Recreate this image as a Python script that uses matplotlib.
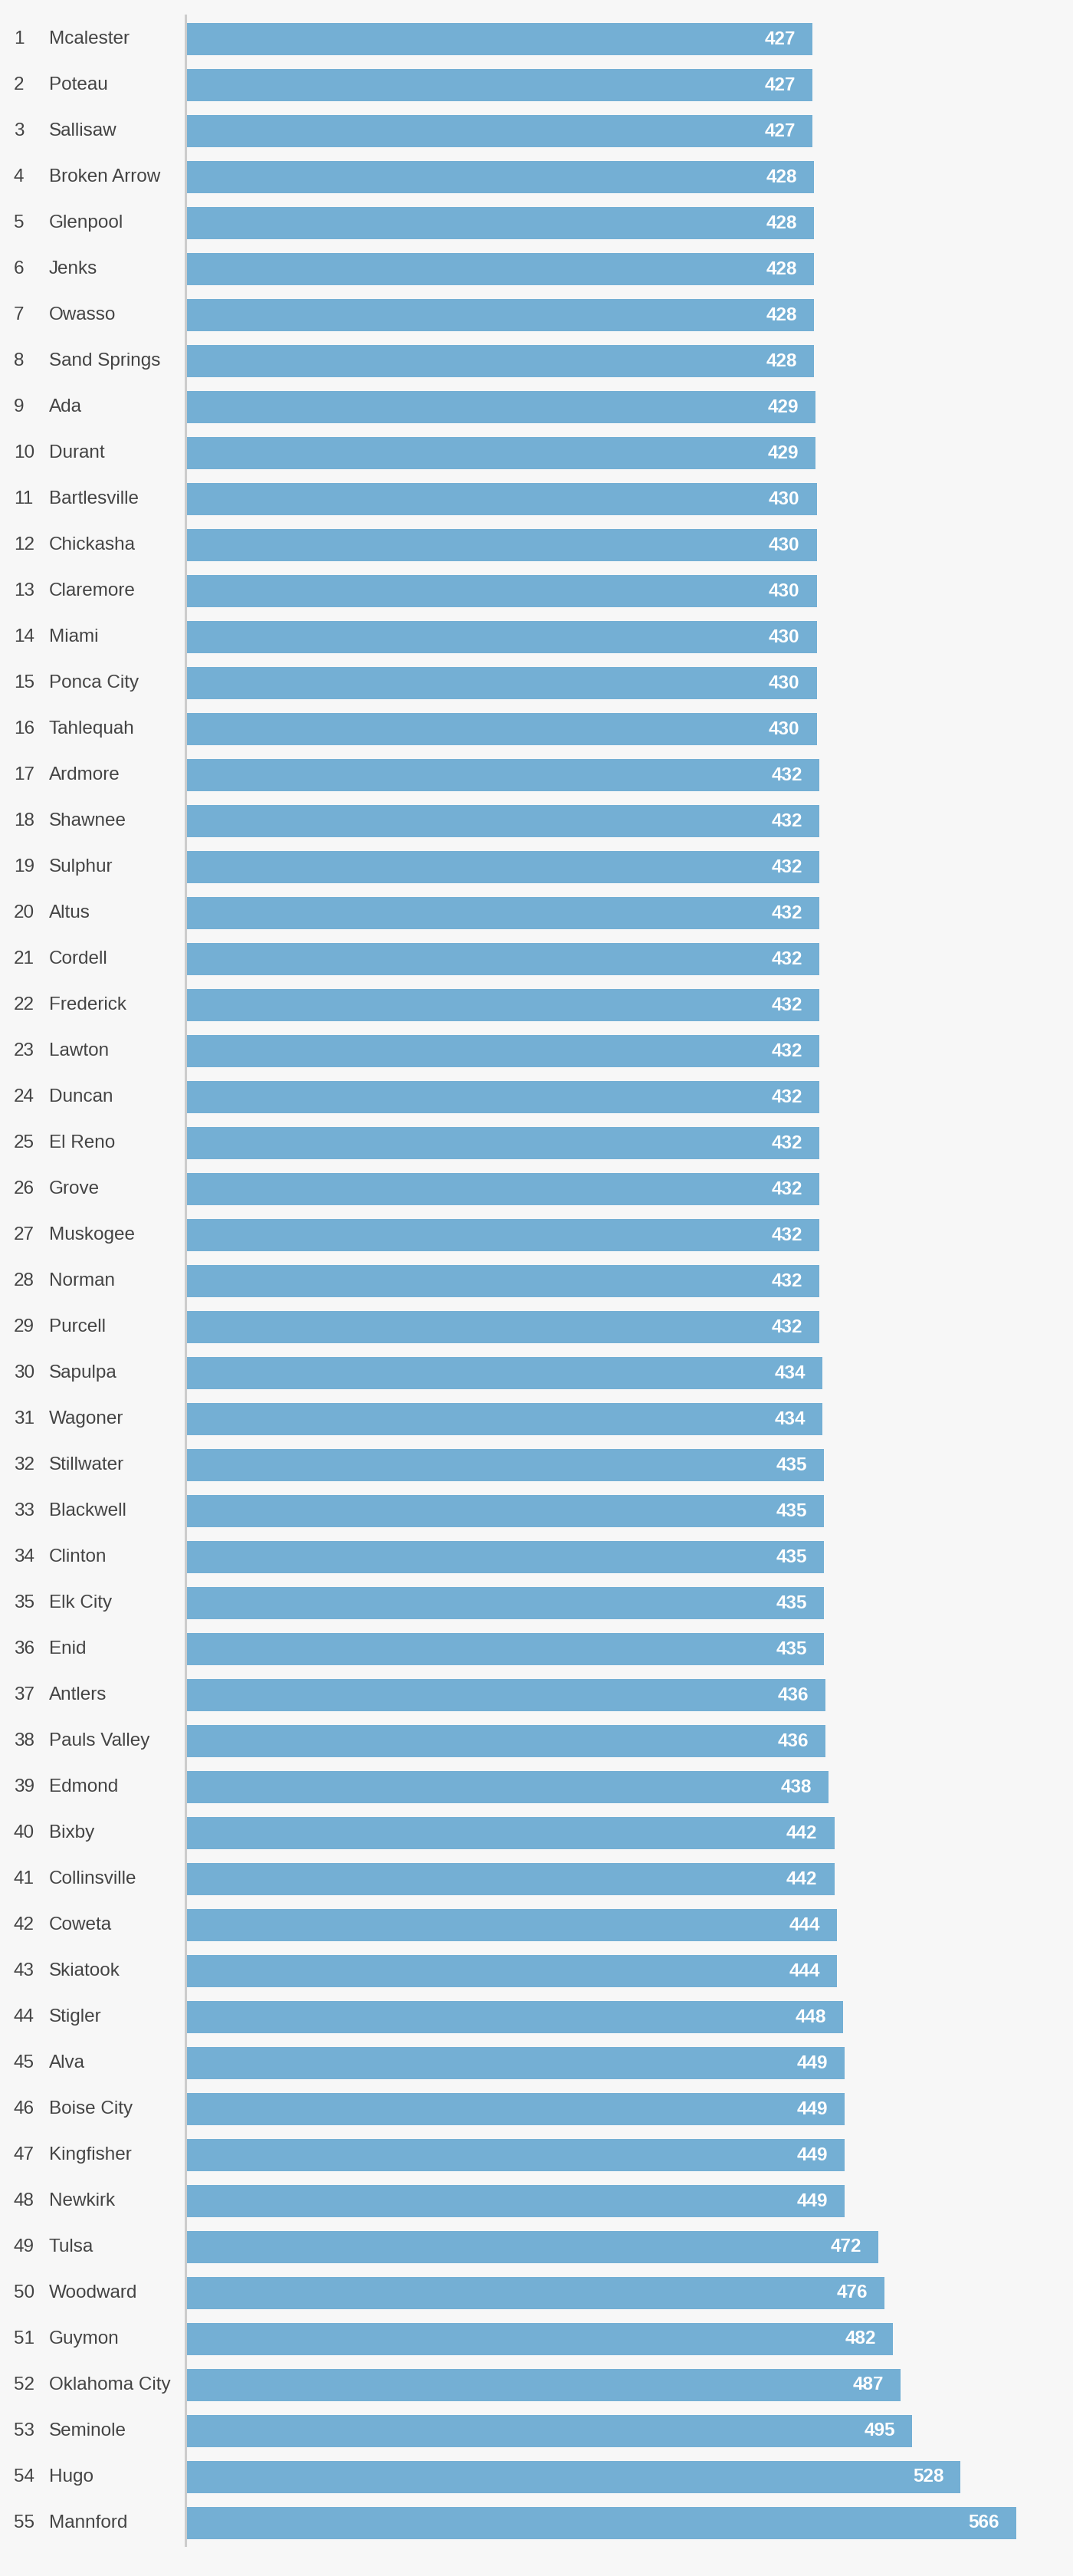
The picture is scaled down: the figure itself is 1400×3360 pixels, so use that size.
import matplotlib.pyplot as plt
import matplotlib.transforms as mtransforms

cities = [
    "Mcalester", "Poteau", "Sallisaw", "Broken Arrow", "Glenpool", "Jenks",
    "Owasso", "Sand Springs", "Ada", "Durant", "Bartlesville", "Chickasha",
    "Claremore", "Miami", "Ponca City", "Tahlequah", "Ardmore", "Shawnee",
    "Sulphur", "Altus", "Cordell", "Frederick", "Lawton", "Duncan",
    "El Reno", "Grove", "Muskogee", "Norman", "Purcell", "Sapulpa",
    "Wagoner", "Stillwater", "Blackwell", "Clinton", "Elk City", "Enid",
    "Antlers", "Pauls Valley", "Edmond", "Bixby", "Collinsville", "Coweta",
    "Skiatook", "Stigler", "Alva", "Boise City", "Kingfisher", "Newkirk",
    "Tulsa", "Woodward", "Guymon", "Oklahoma City", "Seminole", "Hugo",
    "Mannford",
]
values = [
    427, 427, 427, 428, 428, 428, 428, 428, 429, 429, 430, 430, 430, 430,
    430, 430, 432, 432, 432, 432, 432, 432, 432, 432, 432, 432, 432, 432,
    432, 434, 434, 435, 435, 435, 435, 435, 436, 436, 438, 442, 442, 444,
    444, 448, 449, 449, 449, 449, 472, 476, 482, 487, 495, 528, 566,
]

BG = "#f7f7f7"
BAR = "#74afd4"
TXT = "#444444"
W, H = 1400, 3360

plt.rcParams['font.family'] = ['Liberation Sans', 'DejaVu Sans']

fig = plt.figure(figsize=(W / 100, H / 100), dpi=100, facecolor=BG)
ax = fig.add_axes([242 / W, 40 / H, 1084 / W, 3300 / H])
ax.set_facecolor(BG)

n = len(cities)
ypos = list(range(n))
ax.barh(ypos, values, height=0.7, color=BAR, linewidth=0)
ax.set_xlim(0, max(values))
ax.set_ylim(n - 1 + 29 / 60, -31 / 60)

for s in ["top", "right", "bottom"]:
    ax.spines[s].set_visible(False)
ax.spines["left"].set_color("#cccccc")
ax.spines["left"].set_linewidth(2.2)
ax.set_xticks([])
ax.set_yticks([])

trans = mtransforms.blended_transform_factory(fig.transFigure, ax.transData)
for i, (c, v) in enumerate(zip(cities, values)):
    ax.text(18 / W, i, str(i + 1), transform=trans, ha="left", va="center",
            fontsize=17.5, color=TXT)
    ax.text(64 / W, i, c, transform=trans, ha="left", va="center",
            fontsize=17.5, color=TXT)
    ax.annotate(str(v), (v, i), xytext=(-15.8, 0), textcoords="offset points",
                ha="right", va="center", fontsize=17.5, color="white",
                fontweight="bold")

fig.savefig("out.png", dpi=100, facecolor=BG)
